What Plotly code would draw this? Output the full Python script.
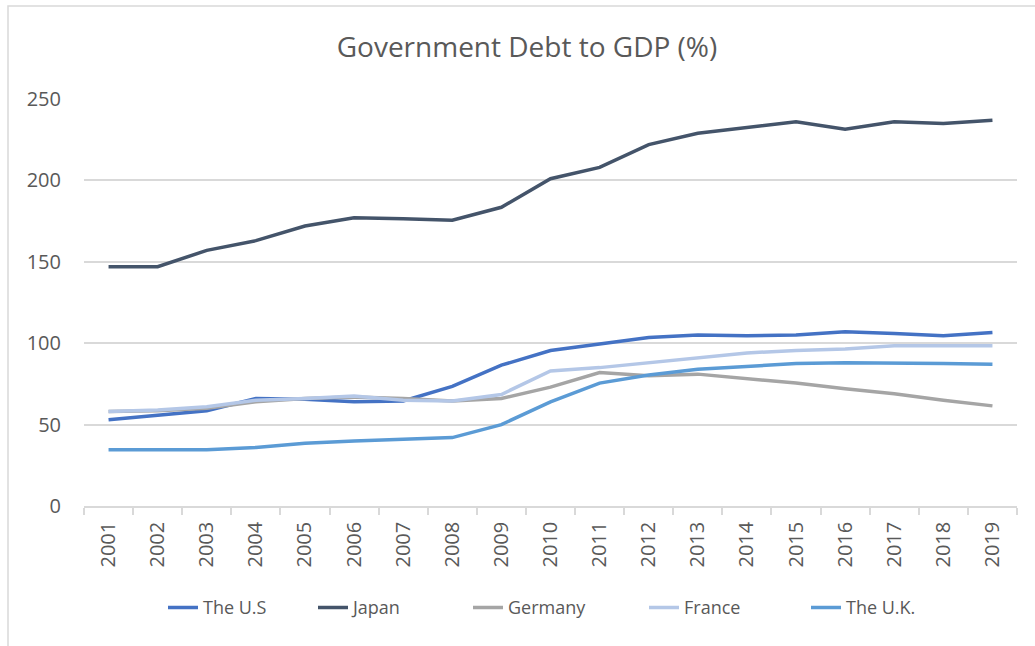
import plotly.graph_objects as go

years = [str(y) for y in range(2001, 2020)]
us = [53, 55.5, 58.5, 66, 65.5, 64, 64.5, 73.5, 86.5, 95.5, 99.5, 103.5, 105, 104.5, 105, 107, 106, 104.5, 106.5]
japan = [147, 147, 157, 163, 172, 177, 176.5, 175.5, 183.5, 201, 208, 222, 229, 232.5, 236, 231.5, 236, 235, 237]
germany = [58, 58.5, 60, 64, 66, 67, 66, 64.5, 66, 73, 82, 80, 81, 78.5, 75.5, 72, 69, 65, 61.5]
france = [58, 59, 61, 65, 66, 67.5, 65, 64.5, 68.5, 83, 85, 88, 91, 94, 95.5, 96.5, 98.5, 98.5, 98.5]
uk = [34.5, 34.5, 34.5, 36, 38.5, 40, 41, 42, 50, 64, 75.5, 80.5, 84, 85.5, 87.5, 88, 88, 87.5, 87]

series = [
    ("The U.S", us, "#4472C4"),
    ("Japan", japan, "#44546A"),
    ("Germany", germany, "#A5A5A5"),
    ("France", france, "#B4C7E7"),
    ("The U.K.", uk, "#5B9BD5"),
]

W, H = 1035, 646
ML, MR, MT, MB = 84, 18, 99, 140
PW = W - ML - MR
PH = H - MT - MB

# legend text start pixel positions in the reference
legend_text_px = [205, 355, 510, 686, 848]

font_family = "Open Sans, Liberation Sans, sans-serif"
fig = go.Figure()
legend_layouts = {}
for i, (name, vals, color) in enumerate(series):
    lname = "legend" if i == 0 else f"legend{i+1}"
    fig.add_trace(go.Scatter(x=years, y=vals, name=name, mode="lines",
                             line=dict(color=color, width=3.5), legend=lname))
    left_px = legend_text_px[i] - 42
    legend_layouts[lname] = dict(
        orientation="h", x=(left_px - ML) / PW, xanchor="left",
        y=-0.25, yanchor="middle", bgcolor="rgba(0,0,0,0)",
        font=dict(size=18, color="#595959", family=font_family),
        itemwidth=30,
    )

fig.update_layout(
    width=W, height=H,
    margin=dict(l=ML, r=MR, t=MT, b=MB),
    paper_bgcolor="white", plot_bgcolor="white",
    font=dict(family=font_family, color="#595959"),
    title=dict(text="Government Debt to GDP (%)", x=527 / W, xanchor="center",
               y=0.927, yanchor="middle",
               font=dict(size=28, color="#595959", family=font_family)),
    showlegend=True,
    xaxis=dict(type="category", range=[-0.5, 18.5], tickson="boundaries", ticks="outside",
               ticklen=7, tickcolor="#D9D9D9", tickwidth=1.5,
               showline=True, linecolor="#D9D9D9", linewidth=1.5,
               showgrid=False, tickangle=-90, tickfont=dict(size=20, color="#595959"),
               ticklabelstandoff=6),
    yaxis=dict(range=[0, 250], dtick=50, showgrid=True, gridcolor="#D9D9D9", gridwidth=1.5,
               zeroline=False, showline=False, tickfont=dict(size=20, color="#595959"),
               ticks="", ticklabelstandoff=22),
    shapes=[dict(type="rect", xref="paper", yref="paper",
                 x0=(8 - ML) / PW, x1=(W + 20 - ML) / PW,
                 y0=-(H + 20 - MT - PH) / PH, y1=1 + (MT - 6) / PH,
                 line=dict(color="#D9D9D9", width=1.5), layer="below")],
    **legend_layouts,
)

fig.write_html("out.html")
